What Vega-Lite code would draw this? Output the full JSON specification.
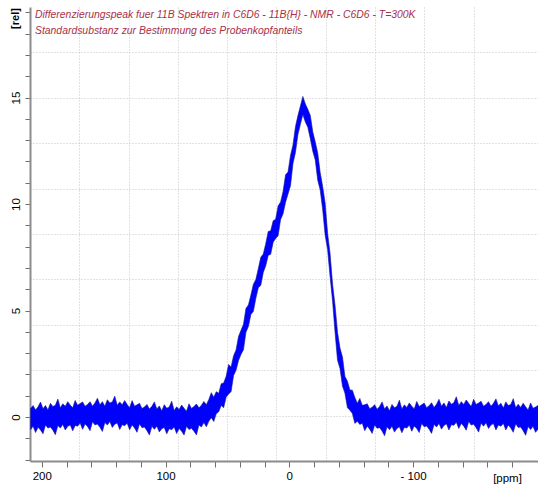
{
"$schema": "https://vega.github.io/schema/vega-lite/v6.json",
"width": 508, "height": 454,
"autosize": {"type": "none"},
"padding": {"left": 30, "top": 7, "right": 0, "bottom": 24},
"background": "white",
"config": {"view": {"stroke": null}, "font": "Liberation Sans"},
"title": {"text": ["Differenzierungspeak fuer 11B Spektren in C6D6 - 11B{H} - NMR - C6D6 - T=300K", "Standardsubstanz zur Bestimmung des Probenkopfanteils"], "anchor": "start", "frame": "group", "orient": "top", "align": "left", "baseline": "top", "offset": 0, "dx": 5, "dy": 29, "font": "Liberation Sans", "fontStyle": "italic", "fontWeight": "normal", "fontSize": 10.4, "color": "#a8304a", "lineHeight": 15.5},
"data": {"values": [
{"ppm":209,"hi":0.40,"lo":-0.59},{"ppm":207,"hi":0.54,"lo":-0.44},{"ppm":205,"hi":0.33,"lo":-0.73},{"ppm":203,"hi":0.48,"lo":-0.48},{"ppm":201,"hi":0.70,"lo":-0.61},
{"ppm":199,"hi":0.39,"lo":-0.79},{"ppm":197,"hi":0.54,"lo":-0.37},{"ppm":195,"hi":0.33,"lo":-0.52},{"ppm":193,"hi":0.64,"lo":-0.47},{"ppm":191,"hi":0.49,"lo":-0.62},
{"ppm":189,"hi":0.55,"lo":-0.83},{"ppm":187,"hi":0.84,"lo":-0.40},{"ppm":185,"hi":0.43,"lo":-0.52},{"ppm":183,"hi":0.62,"lo":-0.35},{"ppm":181,"hi":0.50,"lo":-0.61},
{"ppm":179,"hi":0.72,"lo":-0.44},{"ppm":177,"hi":0.56,"lo":-0.37},{"ppm":175,"hi":0.43,"lo":-0.65},{"ppm":173,"hi":0.78,"lo":-0.40},{"ppm":171,"hi":0.55,"lo":-0.43},
{"ppm":169,"hi":0.63,"lo":-0.28},{"ppm":167,"hi":0.71,"lo":-0.58},{"ppm":165,"hi":0.50,"lo":-0.33},{"ppm":163,"hi":0.59,"lo":-0.45},{"ppm":161,"hi":0.72,"lo":-0.64},
{"ppm":159,"hi":0.51,"lo":-0.22},{"ppm":157,"hi":0.66,"lo":-0.37},{"ppm":155,"hi":0.88,"lo":-0.33},{"ppm":153,"hi":0.57,"lo":-0.48},{"ppm":151,"hi":0.72,"lo":-0.68},
{"ppm":149,"hi":0.50,"lo":-0.26},{"ppm":147,"hi":0.81,"lo":-0.38},{"ppm":145,"hi":0.66,"lo":-0.21},{"ppm":143,"hi":0.71,"lo":-0.49},{"ppm":141,"hi":0.98,"lo":-0.34},
{"ppm":139,"hi":0.55,"lo":-0.28},{"ppm":137,"hi":0.71,"lo":-0.59},{"ppm":135,"hi":0.57,"lo":-0.36},{"ppm":133,"hi":0.77,"lo":-0.41},{"ppm":131,"hi":0.59,"lo":-0.29},
{"ppm":129,"hi":0.44,"lo":-0.60},{"ppm":127,"hi":0.77,"lo":-0.37},{"ppm":125,"hi":0.51,"lo":-0.52},{"ppm":123,"hi":0.57,"lo":-0.72},{"ppm":121,"hi":0.64,"lo":-0.32},
{"ppm":119,"hi":0.40,"lo":-0.50},{"ppm":117,"hi":0.47,"lo":-0.47},{"ppm":115,"hi":0.59,"lo":-0.64},{"ppm":113,"hi":0.37,"lo":-0.85},{"ppm":111,"hi":0.50,"lo":-0.44},
{"ppm":109,"hi":0.71,"lo":-0.58},{"ppm":107,"hi":0.38,"lo":-0.43},{"ppm":105,"hi":0.52,"lo":-0.70},{"ppm":103,"hi":0.29,"lo":-0.55},{"ppm":101,"hi":0.58,"lo":-0.49},
{"ppm":99,"hi":0.41,"lo":-0.79},{"ppm":97,"hi":0.47,"lo":-0.55},{"ppm":95,"hi":0.74,"lo":-0.60},{"ppm":93,"hi":0.31,"lo":-0.47},{"ppm":91,"hi":0.48,"lo":-0.78},
{"ppm":89,"hi":0.35,"lo":-0.54},{"ppm":87,"hi":0.56,"lo":-0.67},{"ppm":85,"hi":0.41,"lo":-0.85},{"ppm":83,"hi":0.27,"lo":-0.44},{"ppm":81,"hi":0.62,"lo":-0.59},
{"ppm":79,"hi":0.40,"lo":-0.53},{"ppm":77,"hi":0.49,"lo":-0.67},{"ppm":75,"hi":0.61,"lo":-0.84},{"ppm":73,"hi":0.43,"lo":-0.38},{"ppm":71,"hi":0.55,"lo":-0.47},
{"ppm":69,"hi":0.73,"lo":-0.26},{"ppm":67,"hi":0.58,"lo":-0.46},{"ppm":65,"hi":0.82,"lo":-0.20},{"ppm":63,"hi":1.14,"lo":-0.03},{"ppm":61,"hi":0.93,"lo":-0.21},
{"ppm":59,"hi":1.19,"lo":0.15},{"ppm":57,"hi":1.11,"lo":0.25},{"ppm":55,"hi":1.56,"lo":0.54},{"ppm":53,"hi":1.60,"lo":0.44},{"ppm":51,"hi":1.91,"lo":0.93},
{"ppm":49,"hi":2.47,"lo":1.08},{"ppm":47,"hi":2.35,"lo":1.19},{"ppm":45,"hi":2.88,"lo":1.95},{"ppm":43,"hi":3.15,"lo":2.19},{"ppm":41,"hi":3.78,"lo":2.65},
{"ppm":39,"hi":4.07,"lo":2.94},{"ppm":37,"hi":4.36,"lo":3.16},{"ppm":35,"hi":5.10,"lo":3.98},{"ppm":33,"hi":5.26,"lo":4.25},{"ppm":31,"hi":5.73,"lo":4.81},
{"ppm":29,"hi":6.23,"lo":4.96},{"ppm":27,"hi":6.46,"lo":5.57},{"ppm":25,"hi":6.97,"lo":6.07},{"ppm":23,"hi":7.50,"lo":6.18},{"ppm":21,"hi":7.65,"lo":6.79},
{"ppm":19,"hi":8.14,"lo":7.10},{"ppm":17,"hi":8.71,"lo":7.59},{"ppm":15,"hi":8.74,"lo":7.64},{"ppm":13,"hi":9.21,"lo":8.21},{"ppm":11,"hi":9.29,"lo":8.38},
{"ppm":9,"hi":9.91,"lo":8.51},{"ppm":7,"hi":10.10,"lo":9.27},{"ppm":5,"hi":10.59,"lo":9.54},{"ppm":3,"hi":11.37,"lo":10.08},{"ppm":1,"hi":11.50,"lo":10.47},
{"ppm":-1,"hi":12.28,"lo":10.86},{"ppm":-3,"hi":12.77,"lo":11.90},{"ppm":-5,"hi":13.63,"lo":12.42},{"ppm":-7,"hi":14.15,"lo":13.26},{"ppm":-9,"hi":14.60,"lo":13.75},
{"ppm":-11,"hi":15.05,"lo":14.20},{"ppm":-13,"hi":14.70,"lo":13.85},{"ppm":-15,"hi":14.45,"lo":13.60},{"ppm":-17,"hi":14.16,"lo":13.07},{"ppm":-19,"hi":13.39,"lo":12.48},
{"ppm":-21,"hi":12.92,"lo":12.07},{"ppm":-23,"hi":12.40,"lo":11.12},{"ppm":-25,"hi":11.48,"lo":10.66},{"ppm":-27,"hi":10.82,"lo":9.73},{"ppm":-29,"hi":10.04,"lo":8.54},
{"ppm":-31,"hi":8.62,"lo":7.85},{"ppm":-33,"hi":7.66,"lo":6.59},{"ppm":-35,"hi":6.24,"lo":5.43},{"ppm":-37,"hi":5.24,"lo":3.97},{"ppm":-39,"hi":3.98,"lo":2.66},
{"ppm":-41,"hi":3.24,"lo":2.28},{"ppm":-43,"hi":2.82,"lo":1.45},{"ppm":-45,"hi":1.90,"lo":1.11},{"ppm":-47,"hi":1.68,"lo":0.44},{"ppm":-49,"hi":1.27,"lo":0.32},
{"ppm":-51,"hi":1.26,"lo":0.17},{"ppm":-53,"hi":0.92,"lo":-0.30},{"ppm":-55,"hi":0.64,"lo":-0.20},{"ppm":-57,"hi":0.87,"lo":-0.35},{"ppm":-59,"hi":0.55,"lo":-0.29},
{"ppm":-61,"hi":0.57,"lo":-0.64},{"ppm":-63,"hi":0.62,"lo":-0.43},{"ppm":-65,"hi":0.39,"lo":-0.57},{"ppm":-67,"hi":0.46,"lo":-0.77},{"ppm":-69,"hi":0.58,"lo":-0.37},
{"ppm":-71,"hi":0.36,"lo":-0.53},{"ppm":-73,"hi":0.49,"lo":-0.50},{"ppm":-75,"hi":0.71,"lo":-0.66},{"ppm":-77,"hi":0.38,"lo":-0.88},{"ppm":-79,"hi":0.52,"lo":-0.46},
{"ppm":-81,"hi":0.29,"lo":-0.60},{"ppm":-83,"hi":0.59,"lo":-0.44},{"ppm":-85,"hi":0.43,"lo":-0.71},{"ppm":-87,"hi":0.50,"lo":-0.54},{"ppm":-89,"hi":0.79,"lo":-0.46},
{"ppm":-91,"hi":0.38,"lo":-0.74},{"ppm":-93,"hi":0.57,"lo":-0.49},{"ppm":-95,"hi":0.45,"lo":-0.52},{"ppm":-97,"hi":0.66,"lo":-0.38},{"ppm":-99,"hi":0.51,"lo":-0.67},
{"ppm":-101,"hi":0.38,"lo":-0.42},{"ppm":-103,"hi":0.73,"lo":-0.54},{"ppm":-105,"hi":0.49,"lo":-0.73},{"ppm":-107,"hi":0.57,"lo":-0.31},{"ppm":-109,"hi":0.66,"lo":-0.46},
{"ppm":-111,"hi":0.44,"lo":-0.42},{"ppm":-113,"hi":0.53,"lo":-0.57},{"ppm":-115,"hi":0.67,"lo":-0.77},{"ppm":-117,"hi":0.45,"lo":-0.35},{"ppm":-119,"hi":0.60,"lo":-0.47},
{"ppm":-121,"hi":0.83,"lo":-0.30},{"ppm":-123,"hi":0.51,"lo":-0.57},{"ppm":-125,"hi":0.66,"lo":-0.40},{"ppm":-127,"hi":0.45,"lo":-0.32},{"ppm":-129,"hi":0.75,"lo":-0.61},
{"ppm":-131,"hi":0.60,"lo":-0.36},{"ppm":-133,"hi":0.67,"lo":-0.39},{"ppm":-135,"hi":0.95,"lo":-0.25},{"ppm":-137,"hi":0.54,"lo":-0.54},{"ppm":-139,"hi":0.72,"lo":-0.30},
{"ppm":-141,"hi":0.59,"lo":-0.43},{"ppm":-143,"hi":0.80,"lo":-0.62},{"ppm":-145,"hi":0.64,"lo":-0.21},{"ppm":-147,"hi":0.49,"lo":-0.38},{"ppm":-149,"hi":0.83,"lo":-0.34},
{"ppm":-151,"hi":0.59,"lo":-0.50},{"ppm":-153,"hi":0.66,"lo":-0.71},{"ppm":-155,"hi":0.74,"lo":-0.29},{"ppm":-157,"hi":0.51,"lo":-0.43},{"ppm":-159,"hi":0.59,"lo":-0.27},
{"ppm":-161,"hi":0.72,"lo":-0.54},{"ppm":-163,"hi":0.50,"lo":-0.38},{"ppm":-165,"hi":0.64,"lo":-0.31},{"ppm":-167,"hi":0.85,"lo":-0.61},{"ppm":-169,"hi":0.52,"lo":-0.38},
{"ppm":-171,"hi":0.65,"lo":-0.43},{"ppm":-173,"hi":0.42,"lo":-0.30},{"ppm":-175,"hi":0.71,"lo":-0.61},{"ppm":-177,"hi":0.54,"lo":-0.38},{"ppm":-179,"hi":0.59,"lo":-0.52},
{"ppm":-181,"hi":0.86,"lo":-0.72},{"ppm":-183,"hi":0.43,"lo":-0.32},{"ppm":-185,"hi":0.60,"lo":-0.49},{"ppm":-187,"hi":0.45,"lo":-0.47},{"ppm":-189,"hi":0.65,"lo":-0.64},
{"ppm":-191,"hi":0.48,"lo":-0.86},{"ppm":-193,"hi":0.33,"lo":-0.45},{"ppm":-195,"hi":0.66,"lo":-0.59},{"ppm":-197,"hi":0.41,"lo":-0.44},{"ppm":-199,"hi":0.47,"lo":-0.72},
{"ppm":-201,"hi":0.54,"lo":-0.57}
]},
"resolve": {"axis": {"x": "independent", "y": "independent"}},
"layer": [
{
"mark": {"type": "area", "opacity": 0},
"encoding": {
"x": {"field": "ppm", "type": "quantitative", "scale": {"domain": [-201, 209.5], "reverse": true, "nice": false, "zero": false},
"axis": {"orient": "bottom", "values": [169.7, 129.86, 90.02, 50.18, 10.34, -29.5, -69.34, -109.18, -149.02], "grid": true, "gridColor": "#c4c4c4", "gridDash": [1, 2], "gridWidth": 1, "labels": false, "ticks": false, "domain": false, "title": null}},
"y": {"field": "hi", "type": "quantitative", "scale": {"domain": [-2.066, 19.25], "nice": false, "zero": false},
"axis": {"orient": "left", "values": [0.066, 2.197, 4.329, 6.46, 8.592, 10.723, 12.855, 14.986, 17.118], "grid": true, "gridColor": "#c4c4c4", "gridDash": [1, 2], "gridWidth": 1, "labels": false, "ticks": false, "domain": false, "title": null}},
"y2": {"field": "lo"}
}
},
{
"mark": {"type": "area", "color": "#0000ff", "stroke": "#16168e", "strokeWidth": 0.6, "interpolate": "linear"},
"encoding": {
"x": {"field": "ppm", "type": "quantitative",
"axis": {"orient": "bottom", "values": [200, 180, 160, 140, 120, 100, 80, 60, 40, 20, 0, -20, -40, -60, -80, -100, -120, -140, -160, -180],
"labelExpr": "datum.value % 100 === 0 ? (datum.value < 0 ? '- ' + (-datum.value) : '' + datum.value) : ''",
"grid": false, "domainColor": "#8c8c8c", "domainWidth": 2, "tickColor": "#6e6e6e", "tickWidth": 1, "tickSize": 6,
"labelFont": "Liberation Sans", "labelFontSize": 11.5, "labelColor": "#000000", "labelPadding": 3, "labelOverlap": false, "labelFlush": false,
"title": "[ppm]", "titleX": 477, "titleY": 20, "titleAlign": "center", "titleBaseline": "alphabetic", "titleFont": "Liberation Sans", "titleFontSize": 11.5, "titleFontWeight": "normal", "titleColor": "#000000"}},
"y": {"field": "hi", "type": "quantitative",
"axis": {"orient": "left", "values": [-2, -1, 0, 1, 2, 3, 4, 5, 6, 7, 8, 9, 10, 11, 12, 13, 14, 15, 16, 17, 18, 19],
"labelExpr": "datum.value % 5 === 0 ? '' + datum.value : ''",
"grid": false, "domainColor": "#8c8c8c", "domainWidth": 2, "tickColor": "#6e6e6e", "tickWidth": 1, "tickSize": 5,
"labelAngle": -90, "labelAlign": "center", "labelBaseline": "bottom", "labelPadding": 4,
"labelFont": "Liberation Sans", "labelFontSize": 11.5, "labelColor": "#000000", "labelOverlap": false, "labelFlush": false,
"title": "[rel]", "titleAngle": -90, "titleX": -15, "titleY": 11, "titleAlign": "center", "titleBaseline": "middle", "titleFont": "Liberation Sans", "titleFontSize": 11, "titleFontWeight": "bold", "titleColor": "#000000"}},
"y2": {"field": "lo"}
}
}
]
}
